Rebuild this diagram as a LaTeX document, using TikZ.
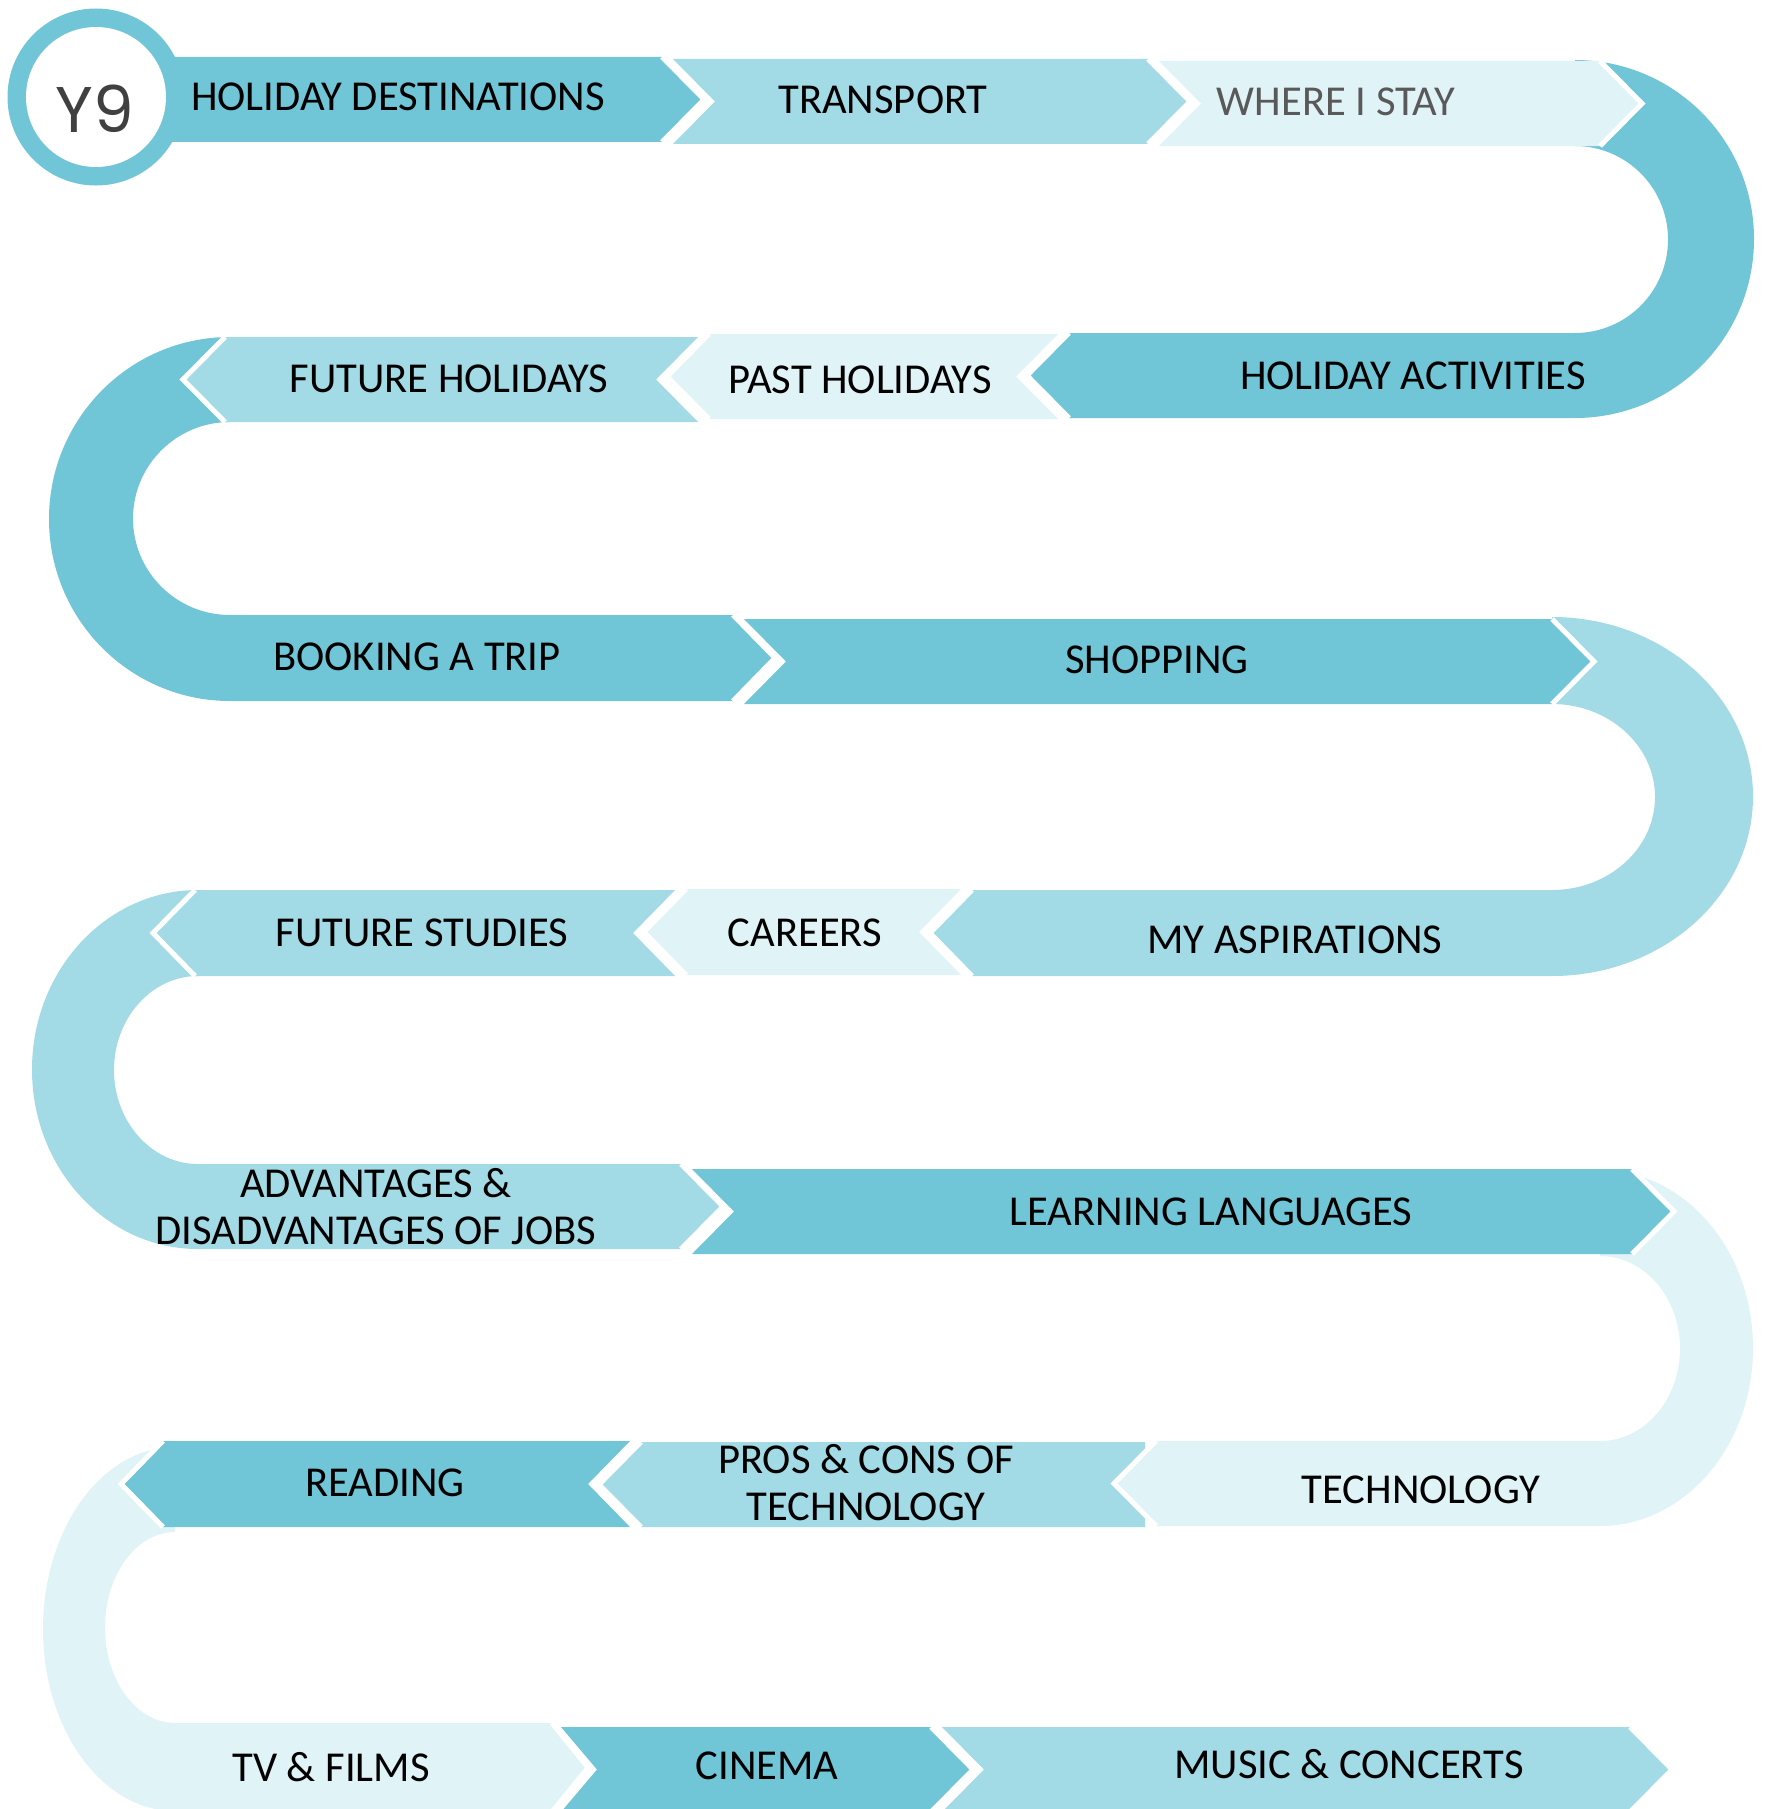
\documentclass[tikz,border=0pt]{standalone}
\usepackage{fontspec}
\setmainfont{Carlito}
\newfontfamily\yearfont{Poppins}
\definecolor{stripdark}{HTML}{70C5D6}
\definecolor{stripmid}{HTML}{A2DAE5}
\definecolor{strippale}{HTML}{E0F3F7}
\definecolor{greytext}{HTML}{595959}
\definecolor{yeartext}{HTML}{404040}
\tikzset{
  banddark/.style={fill=stripdark},
  bandmid/.style={fill=stripmid},
  bandpale/.style={fill=strippale},
  gap/.style={draw=white, line width=5pt, line join=miter},
  topic/.style={font=\fontsize{42.6}{47}\selectfont, inner sep=0pt, text height=27.4pt, text depth=0pt, align=center},
  topic2/.style={font=\fontsize{42.6}{47}\selectfont, inner sep=0pt, align=center}
}
\begin{document}
\begin{tikzpicture}[x=1pt,y=1pt]
        \useasboundingbox (0,0) rectangle (1770,-1809);
        \clip (0,0) rectangle (1770,-1809);
        \fill[banddark] (1575,-60) arc[start angle=90, end angle=-90, x radius=179, y radius=179] -- (1575,-333) arc[start angle=-90, end angle=90, x radius=93, y radius=93.5] -- cycle;
        \fill[banddark] (230,-337) arc[start angle=90, end angle=270, x radius=181, y radius=182] -- (230,-615) arc[start angle=270, end angle=90, x radius=97, y radius=96.5] -- cycle;
        \fill[bandmid] (1552,-617) arc[start angle=90, end angle=-90, x radius=201, y radius=179.5] -- (1552,-890) arc[start angle=-90, end angle=90, x radius=103, y radius=93] -- cycle;
        \fill[bandmid] (198,-890) arc[start angle=90, end angle=270, x radius=166, y radius=179.5] -- (198,-1164) arc[start angle=270, end angle=90, x radius=84, y radius=94] -- cycle;
        \fill[bandpale] (1600,-1170) arc[start angle=90, end angle=-90, x radius=153, y radius=178] -- (1600,-1441) arc[start angle=-90, end angle=90, x radius=80, y radius=92.5] -- cycle;
        \fill[bandpale] (175,-1447) arc[start angle=90, end angle=270, x radius=132, y radius=182] -- (175,-1723) arc[start angle=270, end angle=90, x radius=70, y radius=95.5] -- cycle;
        \fill[banddark] (150,-57) -- (662,-57) -- (704,-99.5) -- (662,-142) -- (150,-142) -- cycle;
        \draw[gap] (662,-57) -- (704,-99.5) -- (662,-142);
        \fill[bandmid] (673,-59) -- (1148,-59) -- (1190,-101.5) -- (1148,-144) -- (673,-144) -- (715,-101.5) -- cycle;
        \draw[gap] (1148,-59) -- (1190,-101.5) -- (1148,-144);
        \fill[bandpale] (1159,-61) -- (1600,-61) -- (1642,-103.5) -- (1600,-146) -- (1159,-146) -- (1201,-103.5) -- cycle;
        \draw[gap] (1600,-61) -- (1642,-103.5) -- (1600,-146);
        \fill[banddark] (1575,-333) -- (1069,-333) -- (1027,-375.5) -- (1069,-418) -- (1575,-418) -- cycle;
        \draw[gap] (1069,-333) -- (1027,-375.5) -- (1069,-418);
        \fill[bandpale] (1058,-334) -- (709,-334) -- (667,-376.5) -- (709,-419) -- (1058,-419) -- (1016,-376.5) -- cycle;
        \draw[gap] (709,-334) -- (667,-376.5) -- (709,-419);
        \fill[bandmid] (698,-337) -- (225,-337) -- (183,-379.5) -- (225,-422) -- (698,-422) -- (656,-379.5) -- cycle;
        \draw[gap] (225,-337) -- (183,-379.5) -- (225,-422);
        \fill[banddark] (230,-615) -- (733,-615) -- (775,-658) -- (733,-701) -- (230,-701) -- cycle;
        \draw[gap] (733,-615) -- (775,-658) -- (733,-701);
        \fill[banddark] (744,-619) -- (1552,-619) -- (1594,-661.5) -- (1552,-704) -- (744,-704) -- (786,-661.5) -- cycle;
        \draw[gap] (1552,-619) -- (1594,-661.5) -- (1552,-704);
        \fill[bandmid] (1552,-890) -- (972,-890) -- (930,-933) -- (972,-976) -- (1552,-976) -- cycle;
        \draw[gap] (972,-890) -- (930,-933) -- (972,-976);
        \fill[bandpale] (961,-889) -- (686,-889) -- (644,-932) -- (686,-975) -- (961,-975) -- (919,-932) -- cycle;
        \draw[gap] (686,-889) -- (644,-932) -- (686,-975);
        \fill[bandmid] (675,-890) -- (195,-890) -- (153,-933) -- (195,-976) -- (675,-976) -- (633,-933) -- cycle;
        \draw[gap] (195,-890) -- (153,-933) -- (195,-976);
        \fill[bandmid] (198,-1164) -- (681,-1164) -- (723,-1206.5) -- (681,-1249) -- (198,-1249) -- cycle;
        \draw[gap] (681,-1164) -- (723,-1206.5) -- (681,-1249);
        \fill[banddark] (692,-1169) -- (1632,-1169) -- (1674,-1211.5) -- (1632,-1254) -- (692,-1254) -- (734,-1211.5) -- cycle;
        \draw[gap] (1632,-1169) -- (1674,-1211.5) -- (1632,-1254);
        \fill[bandmid] (1145,-1442) -- (641,-1442) -- (599,-1484.5) -- (641,-1527) -- (1145,-1527) -- cycle;
        \draw[gap] (641,-1442) -- (599,-1484.5) -- (641,-1527);
        \fill[bandpale] (1600,-1441) -- (1156,-1441) -- (1114,-1483.5) -- (1156,-1526) -- (1600,-1526) -- cycle;
        \draw[gap] (1156,-1441) -- (1114,-1483.5) -- (1156,-1526);
        \fill[banddark] (630,-1441) -- (163,-1441) -- (121,-1484) -- (163,-1527) -- (630,-1527) -- (588,-1484) -- cycle;
        \draw[gap] (163,-1441) -- (121,-1484) -- (163,-1527);
        \fill[bandpale] (175,-1723) -- (552,-1723) -- (588,-1767.5) -- (552,-1812) -- (175,-1812) -- cycle;
        \draw[gap] (552,-1723) -- (588,-1767.5) -- (552,-1812);
        \fill[banddark] (561,-1727) -- (931,-1727) -- (973,-1769.5) -- (931,-1812) -- (561,-1812) -- (597,-1769.5) -- cycle;
        \draw[gap] (931,-1727) -- (973,-1769.5) -- (931,-1812);
        \fill[bandmid] (942,-1727) -- (1630,-1727) -- (1672,-1769.5) -- (1630,-1812) -- (942,-1812) -- (984,-1769.5) -- cycle;
        \draw[gap] (1630,-1727) -- (1672,-1769.5) -- (1630,-1812);
        \fill[stripdark] (96,-97) circle (88.5);
        \fill[white] (96,-97) circle (70);
        \node[inner sep=0pt, text height=45pt, text depth=0pt, text=yeartext, font=\yearfont\fontsize{64.5}{70}\selectfont] (year) at (95,-110) {Y9};
        \node[topic] (dest) at (398,-97) {HOLIDAY DESTINATIONS};
        \node[topic] (transport) at (883,-100) {TRANSPORT};
        \node[topic, text=greytext] (stay) at (1336,-102) {WHERE I STAY};
        \node[topic] (activities) at (1413,-376) {HOLIDAY ACTIVITIES};
        \node[topic] (past) at (860,-380) {PAST HOLIDAYS};
        \node[topic] (futurehol) at (449,-379) {FUTURE HOLIDAYS};
        \node[topic] (booking) at (417,-657) {BOOKING A TRIP};
        \node[topic] (shopping) at (1157,-660) {SHOPPING};
        \node[topic] (aspirations) at (1295,-940) {MY ASPIRATIONS};
        \node[topic] (careers) at (805,-933) {CAREERS};
        \node[topic] (studies) at (422,-933) {FUTURE STUDIES};
        \node[topic2] (jobs) at (376,-1207) {ADVANTAGES \&\\DISADVANTAGES OF JOBS};
        \node[topic] (languages) at (1211,-1212) {LEARNING LANGUAGES};
        \node[topic] (technology) at (1421,-1490) {TECHNOLOGY};
        \node[topic2] (proscons) at (866,-1483) {PROS \& CONS OF\\TECHNOLOGY};
        \node[topic] (reading) at (385,-1483) {READING};
        \node[topic] (tvfilms) at (331,-1768) {TV \& FILMS};
        \node[topic] (cinema) at (767,-1766) {CINEMA};
        \node[topic] (music) at (1349,-1765) {MUSIC \& CONCERTS};
    \end{tikzpicture}
\end{document}
